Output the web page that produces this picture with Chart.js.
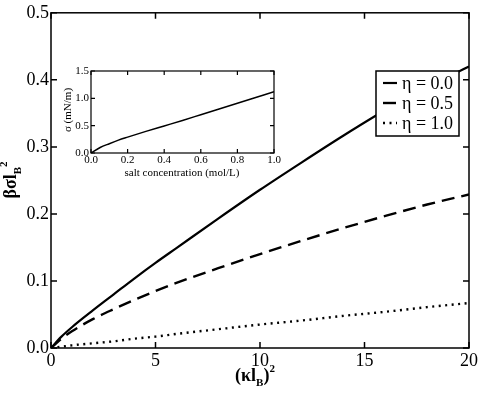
<!DOCTYPE html>
<html>
<head>
<meta charset="utf-8">
<script src="https://cdn.jsdelivr.net/npm/chart.js@4/dist/chart.umd.min.js"></script>
<style>
  html, body { margin: 0; padding: 0; background: #fff; }
  #wrap { position: relative; width: 480px; height: 394px; }
  #main { position: absolute; left: 0; top: 0; }
  #inset { position: absolute; left: 55px; top: 60px; }
</style>
</head>
<body>
<div id="wrap">
  <canvas id="main" width="480" height="394"></canvas>
  <canvas id="inset" width="230" height="125"></canvas>
</div>
<script>
// ---- data ----
const kappaLB2 = [0, 0.5, 1, 2, 3, 4, 5, 6, 8, 10, 12, 14, 16, 18, 20];
const eta00 = [0, 0.017, 0.031, 0.056, 0.080, 0.104, 0.127, 0.149, 0.193, 0.236, 0.277, 0.317, 0.355, 0.389, 0.420];
const eta05 = [0, 0.014, 0.025, 0.043, 0.058, 0.072, 0.085, 0.097, 0.119, 0.140, 0.160, 0.179, 0.197, 0.214, 0.229];
const eta10 = [0, 0.002, 0.004, 0.007, 0.010, 0.014, 0.017, 0.021, 0.028, 0.035, 0.041, 0.048, 0.054, 0.061, 0.067];
const seriesLabels = ['\u03b7 = 0.0', '\u03b7 = 0.5', '\u03b7 = 1.0'];

const saltConc = [0, 0.05, 0.1, 0.15, 0.2, 0.3, 0.4, 0.5, 0.6, 0.7, 0.8, 0.9, 1.0];
const sigmaMN = [0, 0.10, 0.17, 0.235, 0.29, 0.395, 0.495, 0.595, 0.70, 0.805, 0.91, 1.015, 1.12];

const mainXTicks = [0, 5, 10, 15, 20];
const mainYTicks = [0, 0.1, 0.2, 0.3, 0.4, 0.5];
const insetXTicks = [0, 0.2, 0.4, 0.6, 0.8, 1.0];
const insetYTicks = [0, 0.5, 1.0, 1.5];

const SERIF = '"Liberation Serif", "Times New Roman", serif';
const pts = (xs, ys) => xs.map((x, i) => ({ x: x, y: ys[i] }));

function richWidth(ctx, parts) {
  let w = 0;
  parts.forEach(p => { ctx.font = (p.bold ? 'bold ' : '') + p.size + 'px ' + SERIF; w += ctx.measureText(p.t).width; });
  return w;
}
function drawRich(ctx, parts, cx, baseY) {
  const w = richWidth(ctx, parts);
  let x = cx - w / 2;
  ctx.textAlign = 'left';
  ctx.textBaseline = 'alphabetic';
  parts.forEach(p => {
    ctx.font = (p.bold ? 'bold ' : '') + p.size + 'px ' + SERIF;
    ctx.fillText(p.t, x, baseY + (p.dy || 0));
    x += ctx.measureText(p.t).width;
  });
}

function boxTicksPlugin(len, lw) {
  return {
    id: 'boxTicks',
    afterDatasetsDraw(chart) {
      const ctx = chart.ctx, a = chart.chartArea;
      const xs = chart.scales.x, ys = chart.scales.y;
      ctx.save();
      ctx.strokeStyle = '#000';
      ctx.lineWidth = lw;
      ctx.strokeRect(a.left, a.top, a.right - a.left, a.bottom - a.top);
      ctx.beginPath();
      xs.ticks.forEach(t => {
        const p = xs.getPixelForValue(t.value);
        ctx.moveTo(p, a.bottom); ctx.lineTo(p, a.bottom - len);
        ctx.moveTo(p, a.top); ctx.lineTo(p, a.top + len);
      });
      ys.ticks.forEach(t => {
        const p = ys.getPixelForValue(t.value);
        ctx.moveTo(a.left, p); ctx.lineTo(a.left + len, p);
        ctx.moveTo(a.right, p); ctx.lineTo(a.right - len, p);
      });
      ctx.stroke();
      ctx.restore();
    }
  };
}

const mainTitles = {
  id: 'mainTitles',
  afterDraw(chart) {
    const ctx = chart.ctx;
    ctx.save();
    ctx.fillStyle = '#000';
    drawRich(ctx, [
      { t: '(\u03bal', size: 18, bold: true },
      { t: 'B', size: 11, bold: true, dy: 5 },
      { t: ')', size: 18, bold: true },
      { t: '2', size: 11, bold: true, dy: -9 }
    ], 255, 381);
    ctx.translate(16, 180);
    ctx.rotate(-Math.PI / 2);
    drawRich(ctx, [
      { t: '\u03b2\u03c3l', size: 18, bold: true },
      { t: 'B', size: 11, bold: true, dy: 5 },
      { t: '2', size: 11, bold: true, dy: -9 }
    ], 0, 0);
    ctx.restore();

    // legend
    const L = { x: 376, y: 71, w: 83, h: 65 };
    ctx.save();
    ctx.fillStyle = '#fff';
    ctx.fillRect(L.x, L.y, L.w, L.h);
    ctx.strokeStyle = '#000';
    ctx.lineWidth = 1.5;
    ctx.strokeRect(L.x, L.y, L.w, L.h);
    const rows = [83, 103, 123];
    chart.data.datasets.forEach((ds, i) => {
      ctx.beginPath();
      ctx.lineWidth = ds.borderWidth;
      ctx.setLineDash(ds.borderDash || []);
      ctx.moveTo(383, rows[i]); ctx.lineTo(397, rows[i]);
      ctx.stroke();
      ctx.setLineDash([]);
      ctx.fillStyle = '#000';
      ctx.font = '18px ' + SERIF;
      ctx.textAlign = 'left';
      ctx.textBaseline = 'middle';
      ctx.fillText(ds.label, 402, rows[i] + 1);
    });
    ctx.restore();
  }
};

new Chart(document.getElementById('main'), {
  type: 'line',
  data: {
    datasets: [
      { label: seriesLabels[0], data: pts(kappaLB2, eta00), borderColor: '#000', borderWidth: 2.2, pointRadius: 0, cubicInterpolationMode: 'monotone', fill: false },
      { label: seriesLabels[1], data: pts(kappaLB2, eta05), borderColor: '#000', borderWidth: 2.4, borderDash: [13, 7], pointRadius: 0, cubicInterpolationMode: 'monotone', fill: false },
      { label: seriesLabels[2], data: pts(kappaLB2, eta10), borderColor: '#000', borderWidth: 2.4, borderDash: [2, 4.5], pointRadius: 0, cubicInterpolationMode: 'monotone', fill: false }
    ]
  },
  options: {
    responsive: false,
    animation: false,
    events: [],
    layout: { padding: { left: 0, right: 10, top: 12, bottom: 0 } },
    plugins: { legend: { display: false }, tooltip: { enabled: false } },
    scales: {
      x: {
        type: 'linear', min: 0, max: 20,
        afterBuildTicks: s => { s.ticks = mainXTicks.map(v => ({ value: v })); },
        afterFit: s => { s.height = 46; },
        grid: { display: false, drawTicks: false },
        border: { display: false },
        ticks: { color: '#000', font: { family: SERIF, size: 18 }, padding: 2, maxRotation: 0, callback: v => String(v) }
      },
      y: {
        type: 'linear', min: 0, max: 0.5,
        afterBuildTicks: s => { s.ticks = mainYTicks.map(v => ({ value: v })); },
        afterFit: s => { s.width = 51; },
        grid: { display: false, drawTicks: false },
        border: { display: false },
        ticks: { color: '#000', font: { family: SERIF, size: 18 }, padding: 2, callback: v => Number(v).toFixed(1) }
      }
    }
  },
  plugins: [boxTicksPlugin(6, 1.5), mainTitles]
});

const insetTitles = {
  id: 'insetTitles',
  afterDraw(chart) {
    const ctx = chart.ctx;
    ctx.save();
    ctx.fillStyle = '#000';
    drawRich(ctx, [{ t: 'salt concentration (mol/L)', size: 11, bold: false }], 182 - 55, 176 - 60);
    ctx.translate(71 - 55, 110 - 60);
    ctx.rotate(-Math.PI / 2);
    drawRich(ctx, [{ t: '\u03c3 (mN/m)', size: 11, bold: false }], 0, 0);
    ctx.restore();
  }
};

new Chart(document.getElementById('inset'), {
  type: 'line',
  data: {
    datasets: [
      { label: 'sigma', data: pts(saltConc, sigmaMN), borderColor: '#000', borderWidth: 1.5, pointRadius: 0, cubicInterpolationMode: 'monotone', fill: false }
    ]
  },
  options: {
    responsive: false,
    animation: false,
    events: [],
    layout: { padding: { left: 0, right: 11, top: 11, bottom: 0 } },
    plugins: { legend: { display: false }, tooltip: { enabled: false } },
    scales: {
      x: {
        type: 'linear', min: 0, max: 1,
        afterBuildTicks: s => { s.ticks = insetXTicks.map(v => ({ value: v })); },
        afterFit: s => { s.height = 32; },
        grid: { display: false, drawTicks: false },
        border: { display: false },
        ticks: { color: '#000', font: { family: SERIF, size: 11 }, padding: 1, maxRotation: 0, callback: v => Number(v).toFixed(1) }
      },
      y: {
        type: 'linear', min: 0, max: 1.5,
        afterBuildTicks: s => { s.ticks = insetYTicks.map(v => ({ value: v })); },
        afterFit: s => { s.width = 36; },
        grid: { display: false, drawTicks: false },
        border: { display: false },
        ticks: { color: '#000', font: { family: SERIF, size: 11 }, padding: 2, callback: v => Number(v).toFixed(1) }
      }
    }
  },
  plugins: [boxTicksPlugin(4, 1.2), insetTitles]
});
</script>
</body>
</html>
